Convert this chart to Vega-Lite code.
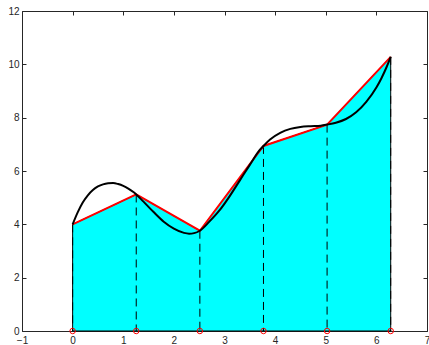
{
  "$schema": "https://vega.github.io/schema/vega-lite/v6.json",
  "width": 405,
  "height": 320,
  "autosize": {"type": "none"},
  "padding": {"left": 22, "top": 11, "right": 2, "bottom": 14},
  "background": "white",
  "config": {
    "view": {"stroke": null},
    "axis": {
      "domainColor": "#262626",
      "tickColor": "#262626",
      "labelColor": "#262626",
      "labelFont": "Liberation Sans",
      "labelFontSize": 10,
      "tickSize": -4,
      "grid": false,
      "title": null,
      "domainWidth": 1,
      "tickWidth": 1,
      "labelPadding": 4,
      "labelOverlap": false,
      "labelFlush": false,
      "labelBound": false
    }
  },
  "datasets": {
    "pts": [
      {"x": 0, "y": 4.0},
      {"x": 1.2566, "y": 5.12},
      {"x": 2.5133, "y": 3.76},
      {"x": 3.7699, "y": 6.94},
      {"x": 5.0265, "y": 7.74},
      {"x": 6.2832, "y": 10.28}
    ],
    "curve": [
      {"x": 0, "y": 4.0},
      {"x": 0.1, "y": 4.45},
      {"x": 0.2, "y": 4.82},
      {"x": 0.3, "y": 5.09},
      {"x": 0.4, "y": 5.29},
      {"x": 0.5, "y": 5.42},
      {"x": 0.6, "y": 5.5},
      {"x": 0.7, "y": 5.54},
      {"x": 0.8, "y": 5.55},
      {"x": 0.9, "y": 5.51},
      {"x": 1.0, "y": 5.44},
      {"x": 1.1, "y": 5.34},
      {"x": 1.2, "y": 5.21},
      {"x": 1.2566, "y": 5.12},
      {"x": 1.4, "y": 4.85},
      {"x": 1.6, "y": 4.46},
      {"x": 1.8, "y": 4.1},
      {"x": 2.0, "y": 3.84},
      {"x": 2.2, "y": 3.68},
      {"x": 2.3, "y": 3.65},
      {"x": 2.4, "y": 3.67},
      {"x": 2.5133, "y": 3.76},
      {"x": 2.7, "y": 4.1},
      {"x": 2.9, "y": 4.52},
      {"x": 3.1, "y": 5.05},
      {"x": 3.3, "y": 5.64},
      {"x": 3.5, "y": 6.23},
      {"x": 3.7, "y": 6.8},
      {"x": 3.7699, "y": 6.94},
      {"x": 3.9, "y": 7.18},
      {"x": 4.1, "y": 7.43},
      {"x": 4.3, "y": 7.58},
      {"x": 4.5, "y": 7.65},
      {"x": 4.7, "y": 7.68},
      {"x": 4.9, "y": 7.7},
      {"x": 5.0265, "y": 7.74},
      {"x": 5.2, "y": 7.81},
      {"x": 5.4, "y": 7.95},
      {"x": 5.6, "y": 8.2},
      {"x": 5.8, "y": 8.59},
      {"x": 6.0, "y": 9.13},
      {"x": 6.1, "y": 9.48},
      {"x": 6.2, "y": 9.89},
      {"x": 6.2832, "y": 10.28}
    ]
  },
  "resolve": {"axis": {"x": "independent", "y": "independent"}},
  "layer": [
    {
      "data": {"name": "pts"},
      "mark": {"type": "area", "color": "#00ffff", "stroke": "#000000", "strokeWidth": 1},
      "encoding": {
        "x": {"field": "x", "type": "quantitative", "scale": {"domain": [-1, 7], "nice": false, "zero": false},
              "axis": {"orient": "bottom", "values": [-1, 0, 1, 2, 3, 4, 5, 6, 7], "format": "d", "labelPadding": 8}},
        "y": {"field": "y", "type": "quantitative", "scale": {"domain": [0, 12], "nice": false},
              "axis": {"orient": "left", "values": [0, 2, 4, 6, 8, 10, 12], "format": "d", "labelPadding": 7}}
      }
    },
    {
      "data": {"name": "pts"},
      "mark": {"type": "rule", "color": "#000000", "strokeWidth": 1, "strokeDash": [8, 5]},
      "encoding": {
        "x": {"field": "x", "type": "quantitative",
              "axis": {"orient": "top", "values": [-1, 0, 1, 2, 3, 4, 5, 6, 7], "labels": false}},
        "y": {"field": "y", "type": "quantitative",
              "axis": {"orient": "right", "values": [0, 2, 4, 6, 8, 10, 12], "labels": false}},
        "y2": {"datum": 0}
      }
    },
    {
      "data": {"name": "pts"},
      "mark": {"type": "line", "color": "#ff0000", "strokeWidth": 2},
      "encoding": {
        "x": {"field": "x", "type": "quantitative", "axis": null},
        "y": {"field": "y", "type": "quantitative", "axis": null}
      }
    },
    {
      "data": {"name": "curve"},
      "mark": {"type": "line", "color": "#000000", "strokeWidth": 2, "interpolate": "monotone"},
      "encoding": {
        "x": {"field": "x", "type": "quantitative", "axis": null},
        "y": {"field": "y", "type": "quantitative", "axis": null}
      }
    },
    {
      "data": {"name": "pts"},
      "mark": {"type": "point", "shape": "circle", "filled": false, "stroke": "#ff0000", "strokeWidth": 1, "size": 30, "opacity": 1},
      "encoding": {
        "x": {"field": "x", "type": "quantitative", "axis": null},
        "y": {"datum": 0, "type": "quantitative", "axis": null}
      }
    }
  ]
}
